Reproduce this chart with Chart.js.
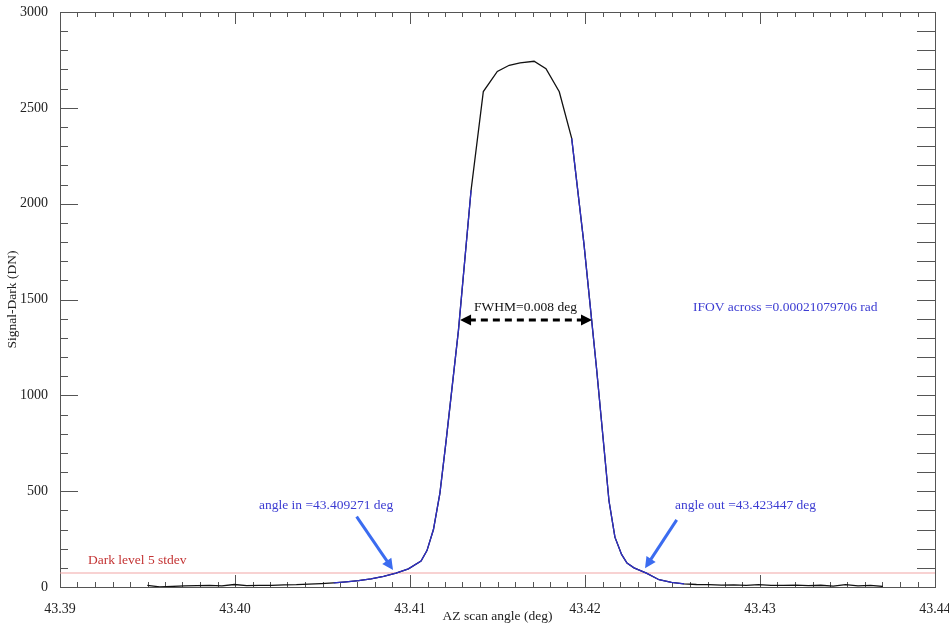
<!DOCTYPE html>
<html>
<head>
<meta charset="utf-8">
<script src="https://cdn.jsdelivr.net/npm/chart.js@4.4.1/dist/chart.umd.min.js"></script>
<style>
  html, body { margin: 0; padding: 0; background: #fff; }
</style>
</head>
<body>
<canvas id="scan" width="949" height="626"></canvas>
<script>
// measured beam profile (black)
const angleDeg = [
  43.39499, 43.39570, 43.39641, 43.39712, 43.39783, 43.39854, 43.39925, 43.39996,
  43.40067, 43.40138, 43.40209, 43.40280, 43.40351, 43.40422, 43.40493, 43.40564,
  43.40635, 43.40706, 43.40777, 43.40849, 43.40920, 43.40991, 43.41063, 43.41097,
  43.41134, 43.41171, 43.41206, 43.41277, 43.41349, 43.41419, 43.41499, 43.41567,
  43.41629, 43.41709, 43.41777, 43.41853, 43.41924, 43.41994, 43.42066, 43.42137,
  43.42171, 43.42209, 43.42240, 43.42280, 43.42351, 43.42423, 43.42494, 43.42566,
  43.42637, 43.42708, 43.42779, 43.42850, 43.42921, 43.42992, 43.43063, 43.43134,
  43.43205, 43.43276, 43.43347, 43.43418, 43.43489, 43.43560, 43.43631, 43.43702
];
const signalDN = [
  8, 1, 3, 6, 7, 8, 6, 13,
  7, 8, 9, 11, 12, 15, 18, 22,
  27, 33, 42, 55, 72, 95, 135, 190,
  300, 490, 760, 1340, 2070, 2585, 2690, 2722,
  2735, 2743, 2704, 2584, 2341, 1790, 1140, 450,
  260, 170, 125, 100, 72, 38, 24, 16,
  13, 12, 10, 11, 9, 12, 9, 8,
  10, 7, 9, 5, 12, 6, 8, 3
];

// edge segments overplotted in blue (null breaks the line over the top)
const edgeAngle = [
  43.40564, 43.40635, 43.40706, 43.40777, 43.40849, 43.40920, 43.40991, 43.41063,
  43.41097, 43.41134, 43.41171, 43.41206, 43.41277, 43.41349, 43.41600,
  43.41924, 43.41994, 43.42066, 43.42137, 43.42171, 43.42209, 43.42240, 43.42280,
  43.42351, 43.42423, 43.42494, 43.42566
];
const edgeDN = [
  22, 27, 33, 42, 55, 72, 95, 135,
  190, 300, 490, 760, 1340, 2070, null,
  2341, 1790, 1140, 450, 260, 170, 125, 100,
  72, 38, 24, 16
];

const darkLevel = 73;
const axisRange = [43.39, 43.44];

const xMin = 43.39, xMax = 43.44, xStep = 0.001;
const yMin = 0, yMax = 3000, yStep = 100;

// annotation anchors, in data units
const notes = [
  { text: "FWHM=0.008 deg", x: 43.4166, y: 1461, color: "#111", align: "center" },
  { text: "IFOV across =0.00021079706 rad", x: 43.42617, y: 1456, color: "#3c3cd2", align: "left" },
  { text: "angle in =43.409271 deg", x: 43.40137, y: 428, color: "#3c3cd2", align: "left" },
  { text: "angle out =43.423447 deg", x: 43.42514, y: 428, color: "#3c3cd2", align: "left" },
  { text: "Dark level 5 stdev", x: 43.3916, y: 136, color: "#c43434", align: "left" }
];
const arrows = [
  { from: [43.41286, 1393], to: [43.42040, 1393], color: "#000", both: true, dash: [7, 5] },
  { from: [43.40695, 367], to: [43.40903, 89], color: "#3b6cf0", both: false },
  { from: [43.42524, 350], to: [43.42343, 98], color: "#3b6cf0", both: false }
];

const serif = "'Liberation Serif', 'DejaVu Serif', serif";

function drawArrow(ctx, x0, y0, x1, y1, color, both, dash) {
  const head = 11, half = 5.5;
  const a = Math.atan2(y1 - y0, x1 - x0);
  const cos = Math.cos(a), sin = Math.sin(a);
  ctx.save();
  ctx.strokeStyle = color;
  ctx.fillStyle = color;
  ctx.lineWidth = 3;
  if (dash) ctx.setLineDash(dash);
  ctx.beginPath();
  ctx.moveTo(both ? x0 + cos * head * 0.8 : x0, both ? y0 + sin * head * 0.8 : y0);
  ctx.lineTo(x1 - cos * head * 0.8, y1 - sin * head * 0.8);
  ctx.stroke();
  ctx.setLineDash([]);
  const tip = (tx, ty, dir) => {
    const c = Math.cos(dir), s = Math.sin(dir);
    ctx.beginPath();
    ctx.moveTo(tx, ty);
    ctx.lineTo(tx - c * head - s * half, ty - s * head + c * half);
    ctx.lineTo(tx - c * head + s * half, ty - s * head - c * half);
    ctx.closePath();
    ctx.fill();
  };
  tip(x1, y1, a);
  if (both) tip(x0, y0, a + Math.PI);
  ctx.restore();
}

// IDL-style frame with inward major/minor ticks, plus the text and arrows
const idlFrame = {
  id: "idlFrame",
  beforeDatasetsDraw(chart) {
    const ctx = chart.ctx;
    const { left, right, top, bottom } = chart.chartArea;
    const x = chart.scales.x, y = chart.scales.y;
    ctx.save();
    ctx.strokeStyle = "#555";
    ctx.lineWidth = 1;
    ctx.strokeRect(Math.round(left) + 0.5, Math.round(top) + 0.5,
      Math.round(right - left), Math.round(bottom - top));
    ctx.beginPath();
    x.ticks.forEach((t, i) => {
      const px = Math.round(x.getPixelForTick(i)) + 0.5;
      const major = t.label !== "";
      const len = major ? 12 : 5;
      ctx.moveTo(px, bottom);
      ctx.lineTo(px, bottom - len);
      ctx.moveTo(px, top);
      ctx.lineTo(px, top + len);
    });
    y.ticks.forEach((t, i) => {
      const py = Math.round(y.getPixelForTick(i)) + 0.5;
      const major = t.label !== "";
      ctx.moveTo(left, py);
      ctx.lineTo(left + (major ? 18 : 8), py);
      ctx.moveTo(right, py);
      ctx.lineTo(right - 18, py);
    });
    ctx.stroke();
    ctx.restore();
  },
  afterDatasetsDraw(chart) {
    const ctx = chart.ctx;
    const x = chart.scales.x, y = chart.scales.y;
    arrows.forEach(a => {
      drawArrow(ctx,
        x.getPixelForValue(a.from[0]), y.getPixelForValue(a.from[1]),
        x.getPixelForValue(a.to[0]), y.getPixelForValue(a.to[1]),
        a.color, a.both, a.dash);
    });
    ctx.save();
    ctx.font = "13.5px " + serif;
    ctx.textBaseline = "middle";
    notes.forEach(n => {
      ctx.fillStyle = n.color;
      ctx.textAlign = n.align;
      ctx.fillText(n.text, x.getPixelForValue(n.x), y.getPixelForValue(n.y));
    });
    ctx.restore();
  }
};

const profile = angleDeg.map((a, i) => ({ x: a, y: signalDN[i] }));
const edges = edgeAngle.map((a, i) => ({ x: a, y: edgeDN[i] }));
const dark = axisRange.map(a => ({ x: a, y: darkLevel }));

new Chart(document.getElementById("scan"), {
  type: "line",
  data: {
    datasets: [
      {
        label: "edges",
        data: edges,
        borderColor: "#2f2fc8",
        borderWidth: 1.3,
        pointRadius: 0,
        spanGaps: false,
        tension: 0
      },
      {
        label: "profile",
        data: profile,
        borderColor: "#111",
        borderWidth: 1.3,
        pointRadius: 0,
        tension: 0
      },
      {
        label: "dark",
        data: dark,
        borderColor: "#f2a6a6",
        borderWidth: 1.2,
        pointRadius: 0
      }
    ]
  },
  options: {
    responsive: false,
    animation: false,
    devicePixelRatio: 1,
    layout: { padding: { top: 12, right: 14, left: 0, bottom: 0 } },
    plugins: { legend: { display: false }, tooltip: { enabled: false } },
    scales: {
      x: {
        type: "linear",
        min: xMin,
        max: xMax,
        grid: { display: false },
        border: { display: false },
        afterFit: s => { s.height = 39; s.paddingLeft = 0; s.paddingRight = 0; },
        ticks: {
          stepSize: xStep,
          maxTicksLimit: 1000,
          autoSkip: false,
          maxRotation: 0,
          padding: 6,
          color: "#222",
          font: { family: serif, size: 14 },
          callback: v => (Math.round(v * 1000) % 10 === 0 ? v.toFixed(2) : "")
        },
        title: {
          display: true,
          text: "AZ scan angle (deg)",
          color: "#222",
          font: { family: serif, size: 13.5 },
          padding: { top: 0, bottom: 1 }
        }
      },
      y: {
        min: yMin,
        max: yMax,
        grid: { display: false },
        border: { display: false },
        afterFit: s => { s.width = 60; s.paddingTop = 0; s.paddingBottom = 0; },
        ticks: {
          stepSize: yStep,
          maxTicksLimit: 1000,
          autoSkip: false,
          padding: 4,
          color: "#222",
          font: { family: serif, size: 14 },
          callback: v => (Math.round(v) % 500 === 0 ? String(Math.round(v)) : "")
        },
        title: {
          display: true,
          text: "Signal-Dark (DN)",
          color: "#222",
          font: { family: serif, size: 13.5 },
          padding: { top: 4, bottom: 0 }
        }
      }
    }
  },
  plugins: [idlFrame]
});
</script>
</body>
</html>
